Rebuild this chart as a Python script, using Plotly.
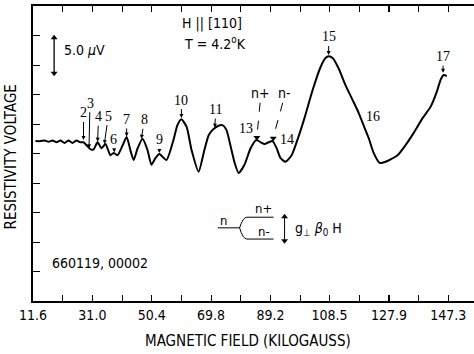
import plotly.graph_objects as go

# ---- data ----
field = [12.4, 14.1, 15.4, 16.7, 18.0, 19.3, 20.6, 21.9, 23.2, 24.5, 25.8, 27.1, 28.1, 29.1,
         30.4, 31.4, 32.7, 34.0, 35.3, 36.9, 37.9, 39.2, 40.9, 42.2, 43.5, 44.5, 45.8, 47.4,
         49.0, 50.3, 51.6, 52.9, 55.2, 57.5, 58.8, 60.1, 61.8, 63.4, 65.7, 67.6, 69.0, 70.3,
         72.2, 73.5, 74.8, 76.1, 77.5, 78.8, 80.7, 82.7, 84.6, 86.0, 87.3, 88.6, 89.9, 91.2,
         92.5, 94.1, 96.1, 98.0, 100.3, 103.0, 105.6, 107.2, 108.2, 109.5, 111.4, 113.7,
         116.0, 118.0, 119.6, 121.3, 122.9, 124.9, 126.8, 130.7, 133.3, 136.0, 138.9, 141.5,
         143.5, 144.8, 145.8, 146.8]
voltage = [27.1, 27.1, 27.2, 27.0, 27.2, 26.9, 27.2, 26.8, 27.2, 26.8, 27.2, 26.9, 26.9, 26.4,
           25.7, 25.7, 26.9, 25.9, 26.6, 24.7, 25.1, 24.7, 26.4, 27.8, 25.4, 23.9, 25.9, 27.5,
           25.6, 23.1, 24.2, 24.9, 23.9, 27.3, 29.8, 30.8, 29.5, 25.6, 21.9, 25.6, 28.1, 29.0,
           29.7, 29.8, 29.0, 26.4, 23.4, 21.7, 23.1, 25.9, 27.3, 26.9, 26.6, 26.9, 27.1, 25.9,
           24.2, 23.6, 24.7, 27.3, 31.0, 35.8, 39.7, 41.2, 41.5, 41.2, 39.5, 36.6,
           34.1, 31.9, 29.8, 27.6, 25.1, 23.4, 23.6, 24.7, 26.4, 28.5, 31.0, 32.9,
           35.4, 37.5, 38.3, 38.1]

tick_vals = [11.6, 31.0, 50.4, 69.8, 89.2, 108.5, 127.9, 147.3]
tick_text = ["11.6", "31.0", "50.4", "69.8", "89.2", "108.5", "127.9", "147.3"]
y_ticks = [5, 10, 15, 20, 25, 30, 35, 40, 45]

# peak labels: (text, field, voltage, ax, ay)
peak_labels = [
    ("2", 28.1, 27.3, 0, -27),
    ("3", 29.9, 25.9, 1, -45),
    ("4", 32.7, 27.0, 1, -25),
    ("5", 34.9, 26.6, 4, -28),
    ("6", 38.2, 25.2, -1, -13),
    ("7", 42.2, 27.9, 0, -17),
    ("8", 47.0, 27.5, 3, -19),
    ("9", 52.9, 25.1, 0, -13),
    ("10", 60.1, 31.0, 0, -18),
    ("11", 71.0, 29.4, 1, -18),
    ("15", 108.2, 41.7, 0, -18),
    ("17", 145.6, 38.7, 0, -16),
]

FONT = "DejaVu Sans Condensed, DejaVu Sans, sans-serif"
SERIF = "Liberation Serif, DejaVu Serif, serif"

fig = go.Figure()
fig.add_trace(go.Scatter(x=field, y=voltage, mode="lines",
                         line=dict(color="black", width=2, shape="spline", smoothing=0.6),
                         hoverinfo="skip", showlegend=False))

ann = []
for t, x, y, ax, ay in peak_labels:
    ann.append(dict(x=x, y=y, xref="x", yref="y", text=t, showarrow=True, ax=ax, ay=ay,
                    arrowhead=2, arrowsize=0.8, arrowwidth=1, arrowcolor="black",
                    font=dict(size=14, color="black", family=SERIF)))

def txt(x, y, s, size=14, xanchor="center", family=FONT):
    ann.append(dict(x=x, y=y, xref="x", yref="y", text=s, showarrow=False, xanchor=xanchor,
                    font=dict(size=size, color="black", family=family)))

txt(84.3, 29.2, "13", family=SERIF, xanchor="right")
txt(91.6, 27.4, "14", family=SERIF, xanchor="left")
txt(119.8, 31.3, "16", family=SERIF, xanchor="left")
txt(86.0, 35.3, "n+")
txt(93.8, 35.3, "n-")
txt(70.0, 47.0, "H || [110]", size=14)
txt(71.0, 43.7, "T = 4.2<sup>o</sup>K", size=14)
txt(21.0, 42.6, "5.0 <i>µ</i>V", size=14, xanchor="left")
txt(33.5, 6.5, "660119, 00002", size=14)
txt(74.0, 13.6, "n", size=13)
txt(87.0, 15.7, "n+", size=13)
txt(87.0, 11.8, "n-", size=13)
txt(96.4, 12.2, "g<sub>⊥</sub> <i>β</i><sub>0</sub> H", size=14, xanchor="left")

thin = dict(color="black", width=1)
shapes = [
    dict(type="line", x0=18.5, y0=38.6, x1=18.5, y1=44.6, xref="x", yref="y", line=dict(color="black", width=1.3)),
    dict(type="line", x0=93.8, y0=10.2, x1=93.8, y1=14.3, xref="x", yref="y", line=thin),
    dict(type="line", x0=85.8, y0=33.6, x1=84.8, y1=28.0, xref="x", yref="y",
         line=dict(color="black", width=1, dash="dash")),
    dict(type="line", x0=93.2, y0=33.6, x1=90.2, y1=27.9, xref="x", yref="y",
         line=dict(color="black", width=1, dash="dash")),
    dict(type="line", x0=72.0, y0=12.4, x1=79.1, y1=12.4, xref="x", yref="y", line=thin),
    dict(type="path", path="M 79.1,12.4 Q 80.2,14.2 81.5,14.2 L 90.2,14.2", xref="x", yref="y", line=thin),
    dict(type="path", path="M 79.1,12.4 Q 80.2,10.5 81.5,10.5 L 90.2,10.5", xref="x", yref="y", line=thin),
]

fig.add_trace(go.Scatter(x=[18.5, 93.8], y=[44.6, 14.3], mode="markers",
                         marker=dict(symbol="triangle-up", size=6, color="black"),
                         hoverinfo="skip", showlegend=False))
fig.add_trace(go.Scatter(x=[18.5, 93.8, 84.75, 90.1], y=[38.6, 10.2, 27.7, 27.6], mode="markers",
                         marker=dict(symbol="triangle-down", size=6, color="black"),
                         hoverinfo="skip", showlegend=False))

ann.append(dict(x=-0.05, y=0.49, xref="paper", yref="paper", text="RESISTIVITY VOLTAGE",
                textangle=-90, showarrow=False, xanchor="center", yanchor="middle",
                font=dict(size=15, color="black", family=FONT)))
ann.append(dict(x=0.488, y=-0.137, xref="paper", yref="paper", text="MAGNETIC FIELD (KILOGAUSS)",
                showarrow=False, xanchor="center", yanchor="middle",
                font=dict(size=15, color="black", family=FONT)))

fig.update_layout(
    width=474, height=354,
    margin=dict(l=33, r=0, t=6, b=53),
    paper_bgcolor="white", plot_bgcolor="white",
    annotations=ann, shapes=shapes,
    xaxis=dict(range=[11.6, 155.7], tickvals=tick_vals, ticktext=tick_text,
               ticks="inside", ticklen=6, tickwidth=1.2, tickcolor="black",
               minor=dict(tick0=11.6, dtick=9.7, ticks="inside", ticklen=6, tickwidth=1.2,
                          tickcolor="black", showgrid=False),
               showline=True, linecolor="black", linewidth=1.5, mirror="ticks",
               showgrid=False, zeroline=False,
               tickfont=dict(size=14, color="black", family=FONT)),
    yaxis=dict(range=[0, 50], tickvals=y_ticks, showticklabels=False,
               ticks="inside", ticklen=7, tickwidth=1.2, tickcolor="black",
               showline=True, linecolor="black", linewidth=1.5,
               showgrid=False, zeroline=False),
)

fig.write_html("out.html")
